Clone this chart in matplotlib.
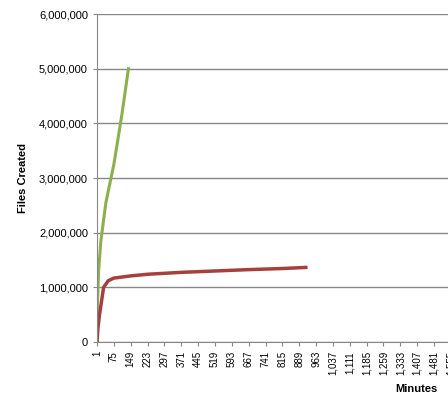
import matplotlib.pyplot as plt
from matplotlib.ticker import FuncFormatter

green_min = [1, 3, 8, 18, 40, 75, 110, 139]
green_files = [0, 700000, 1300000, 1850000, 2550000, 3250000, 4150000, 5000000]
red_min = [1, 5, 12, 30, 50, 75, 149, 223, 371, 519, 667, 815, 918]
red_files = [0, 250000, 500000, 1000000, 1120000, 1170000, 1210000, 1240000, 1275000, 1300000, 1325000, 1345000, 1365000]
tick_min = list(range(1, 1600, 74))

fig = plt.figure(figsize=(4.48, 4.01), dpi=100)
ax = fig.add_axes([0.2165, 0.147, 0.79, 0.818])
ax.plot(green_min, green_files, color="#8cb04e", lw=2.2)
ax.plot(red_min, red_files, color="#a5403d", lw=2.5)
ax.set_xlim(1, 1555)
ax.set_ylim(0, 6000000)
ax.set_yticks(range(0, 6000001, 1000000))
ax.yaxis.set_major_formatter(FuncFormatter(lambda v, p: f"{int(v):,}"))
ax.set_xticks(tick_min)
ax.set_xticklabels([f"{t:,}" for t in tick_min], rotation=90, fontsize=7, family="Liberation Sans")
for lb in ax.get_yticklabels():
    lb.set_fontsize(8)
    lb.set_family("Liberation Sans")
ax.grid(axis="y", color="#888888", lw=1)
for s in ["top", "right"]:
    ax.spines[s].set_visible(False)
ax.spines["left"].set_color("#888888")
ax.spines["bottom"].set_color("#888888")
ax.tick_params(colors="#888888", labelcolor="black", length=3)
ax.set_ylabel("Files Created", fontsize=8, fontweight="bold", family="Liberation Sans", labelpad=8)
fig.text(0.93, 0.018, "Minutes", fontsize=8, fontweight="bold", family="Liberation Sans", ha="center", va="bottom")
fig.savefig("out.png")
